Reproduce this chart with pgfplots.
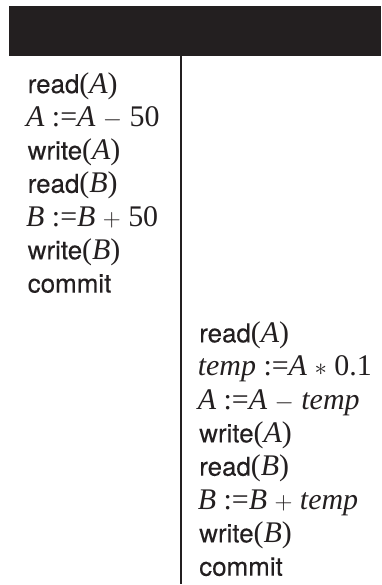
\documentclass[border=0pt]{standalone}
\usepackage{fontspec}
\setmainfont{TeX Gyre Heros}[FakeBold=0.15]
\setsansfont{TeX Gyre Heros}
\newfontfamily\tmfam{Liberation Serif}
\usepackage{pgfplots}
\pgfplotsset{compat=1.18}
\definecolor{ink}{HTML}{231F20}
\newcommand{\tm}{\fontsize{30}{36}\selectfont\tmfam}
\newcommand{\var}[1]{{\tm\itshape #1}}
\newcommand{\tr}[1]{{\tm #1}}
\newcommand{\op}[1]{{\tm\ $#1$\ }}
\begin{document}
\begin{tikzpicture}
\begin{axis}[
  width=382pt, height=585pt, scale only axis,
  xmin=0, xmax=382, ymin=0, ymax=585, y dir=reverse,
  hide axis, clip=false,
]
% bounding frame (invisible)
\path (axis cs:0,0) rectangle (axis cs:382,585);
% header bar
\addplot[fill=ink, draw=none] coordinates {(9,6) (382,6) (382,55.7) (9,55.7)} -- cycle;
% vertical separator
\addplot[ink, line width=2.2pt] coordinates {(181.5,55.7) (181.5,585)};
\begin{scope}[every node/.style={anchor=base west, inner sep=0pt, text=ink, font=\fontsize{26}{31}\selectfont}]
% T1
\node at (axis cs:27.6,93.3) {read\tr{(}\var{A}\tr{)}};
\node at (axis cs:26,126.6) {\var{A}\tr{ :=}\var{A}\op{-}\tr{50}};
\node at (axis cs:27.6,159.9) {write\tr{(}\var{A}\tr{)}};
\node at (axis cs:27.6,193.2) {read\tr{(}\var{B}\tr{)}};
\node at (axis cs:26,226.5) {\var{B}\tr{ :=}\var{B}\op{+}\tr{50}};
\node at (axis cs:27.6,259.8) {write\tr{(}\var{B}\tr{)}};
\node at (axis cs:27.6,293.1) {commit};
% T2
\node at (axis cs:199.4,343) {read\tr{(}\var{A}\tr{)}};
\node at (axis cs:198,376.4) {\var{temp}\tr{ :=}\var{A}\op{\ast}\tr{0.1}};
\node at (axis cs:198,409.8) {\var{A}\tr{ :=}\var{A}\op{-}\var{temp}};
\node at (axis cs:199.4,443.2) {write\tr{(}\var{A}\tr{)}};
\node at (axis cs:199.4,476.6) {read\tr{(}\var{B}\tr{)}};
\node at (axis cs:198,510) {\var{B}\tr{ :=}\var{B}\op{+}\var{temp}};
\node at (axis cs:199.4,543.4) {write\tr{(}\var{B}\tr{)}};
\node at (axis cs:199.4,576.8) {commit};
\end{scope}
\end{axis}
\end{tikzpicture}
\end{document}
